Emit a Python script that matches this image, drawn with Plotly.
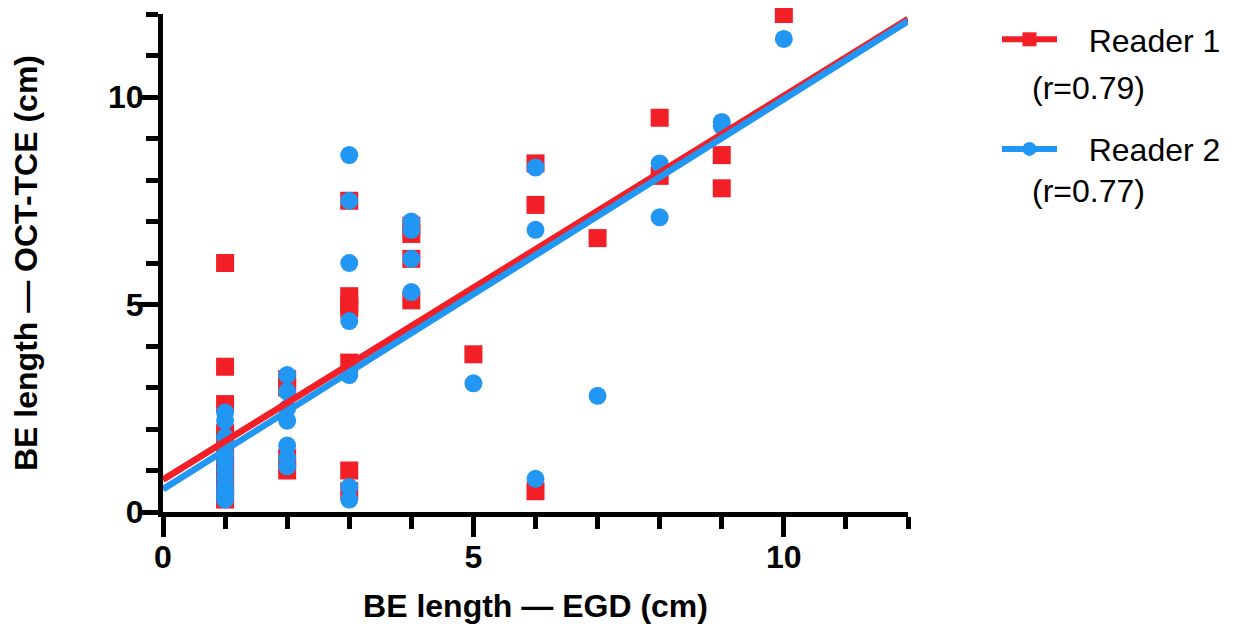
import plotly.graph_objects as go

# ---- data ----
reader1_egd = [1, 1, 1, 1, 1, 1, 1, 1, 1, 1, 1, 1,
               2, 2, 2, 2,
               3, 3, 3, 3, 3, 3, 3,
               4, 4, 4, 4,
               5,
               6, 6, 6,
               7,
               8, 8,
               9, 9,
               10]
reader1_oct = [6.0, 3.5, 2.6, 1.9, 1.7, 1.4, 1.2, 1.0, 0.8, 0.6, 0.4, 0.3,
               3.2, 3.0, 1.3, 1.0,
               7.5, 5.2, 5.0, 4.9, 3.6, 1.0, 0.5,
               6.9, 6.7, 6.1, 5.1,
               3.8,
               8.4, 7.4, 0.5,
               6.6,
               9.5, 8.1,
               8.6, 7.8,
               12.0]

reader2_egd = [1, 1, 1, 1, 1, 1, 1, 1, 1, 1, 1, 1,
               2, 2, 2, 2, 2, 2, 2,
               3, 3, 3, 3, 3, 3, 3,
               4, 4, 4, 4,
               5,
               6, 6, 6,
               7,
               8, 8,
               9, 9,
               10]
reader2_oct = [2.4, 2.2, 1.8, 1.6, 1.4, 1.2, 1.0, 0.8, 0.6, 0.5, 0.4, 0.3,
               3.3, 2.9, 2.5, 2.2, 1.6, 1.3, 1.1,
               8.6, 7.5, 6.0, 4.6, 3.3, 0.6, 0.3,
               7.0, 6.8, 6.1, 5.3,
               3.1,
               8.3, 6.8, 0.8,
               2.8,
               8.4, 7.1,
               9.4, 9.3,
               11.4]

# linear regression lines (intercept, slope)
reader1_fit = (0.78, 0.925)
reader2_fit = (0.55, 0.94)
fit_x = [0, 12]

series_names = ["Reader 1", "Reader 2"]
series_r = ["(r=0.79)", "(r=0.77)"]

x_ticks = [0, 5, 10]
y_ticks = [0, 5, 10]
x_title = "BE length — EGD (cm)"
y_title = "BE length — OCT-TCE (cm)"

# ---- styles ----
RED = "#F21F27"
BLUE = "#2196F3"
FONT = "Liberation Sans, Arial, sans-serif"


def fit_line(fit):
    b0, b1 = fit
    return [b0 + b1 * x for x in fit_x]


fig = go.Figure()

fig.add_trace(go.Scatter(
    x=reader1_egd, y=reader1_oct, mode="markers", showlegend=False,
    marker=dict(symbol="square", size=18, color=RED), cliponaxis=False))
fig.add_trace(go.Scatter(
    x=reader2_egd, y=reader2_oct, mode="markers", showlegend=False,
    marker=dict(symbol="circle", size=18, color=BLUE), cliponaxis=False))

fig.add_trace(go.Scatter(
    x=fit_x, y=fit_line(reader1_fit), mode="lines", showlegend=False,
    line=dict(color=RED, width=6.5), cliponaxis=False))
fig.add_trace(go.Scatter(
    x=fit_x, y=fit_line(reader2_fit), mode="lines", showlegend=False,
    line=dict(color=BLUE, width=6.5), cliponaxis=False))

# legend entries
fig.add_trace(go.Scatter(
    x=[None], y=[None], mode="lines+markers", name="\u00a0\u00a0\u00a0" + series_names[0],
    legendgroup="a", line=dict(color=RED, width=6),
    marker=dict(symbol="square", size=14, color=RED)))
fig.add_trace(go.Scatter(
    x=[None], y=[None], mode="lines+markers", name="\u00a0\u00a0\u00a0" + series_names[1],
    legendgroup="b", line=dict(color=BLUE, width=6),
    marker=dict(symbol="circle", size=14, color=BLUE)))

# the page places the figure 8px from the top-left corner of the window
OFF = 8
W, H = 1243 - OFF, 633 - OFF
L, T = 163 - OFF, 14 - OFF
R = W - (908 - OFF)
B = H - (512 - OFF)
pw, ph = W - L - R, H - T - B


def px_x(px):
    return (px - OFF - L) / pw


def px_y(py):
    return (H - B - (py - OFF)) / ph


for txt, py in zip(series_r, [88, 191]):
    fig.add_annotation(
        text=txt, xref="paper", yref="paper", x=px_x(1030), y=px_y(py),
        xanchor="left", yanchor="middle", showarrow=False,
        font=dict(family=FONT, size=32, color="black"))

tick_font = dict(family=FONT, size=32, color="black", weight="bold")
title_font = dict(family=FONT, size=32, color="black", weight="bold")

fig.update_layout(
    width=W, height=H,
    margin=dict(l=L, r=R, t=T, b=B, autoexpand=False),
    paper_bgcolor="white", plot_bgcolor="white",
    legend=dict(
        x=px_x(997), y=px_y(12), xanchor="left", yanchor="top",
        font=dict(family=FONT, size=32, color="black"),
        itemwidth=55, tracegroupgap=65, bgcolor="rgba(0,0,0,0)",
        traceorder="grouped", itemsizing="trace"),
)

fig.update_xaxes(
    range=[0, 12], showgrid=False, zeroline=False,
    showline=True, linewidth=5, linecolor="black",
    tickmode="array", tickvals=x_ticks, ticktext=[str(v) for v in x_ticks],
    ticks="outside", ticklen=20, tickwidth=5, tickcolor="black",
    ticklabelstandoff=-7,
    minor=dict(dtick=1, ticks="outside", ticklen=12, tickwidth=5, tickcolor="black", showgrid=False),
    tickfont=tick_font, automargin=False,
    title=dict(text=x_title, font=title_font, standoff=22),
)
fig.update_yaxes(
    range=[0, 12], showgrid=False, zeroline=False,
    showline=True, linewidth=5, linecolor="black",
    tickmode="array", tickvals=y_ticks, ticktext=[str(v) for v in y_ticks],
    ticks="outside", ticklen=20, tickwidth=5, tickcolor="black",
    ticklabelstandoff=-12,
    minor=dict(dtick=1, ticks="outside", ticklen=12, tickwidth=5, tickcolor="black", showgrid=False),
    tickfont=tick_font, automargin=False,
    title=dict(text=y_title, font=title_font, standoff=62),
)

fig.write_html("out.html")
